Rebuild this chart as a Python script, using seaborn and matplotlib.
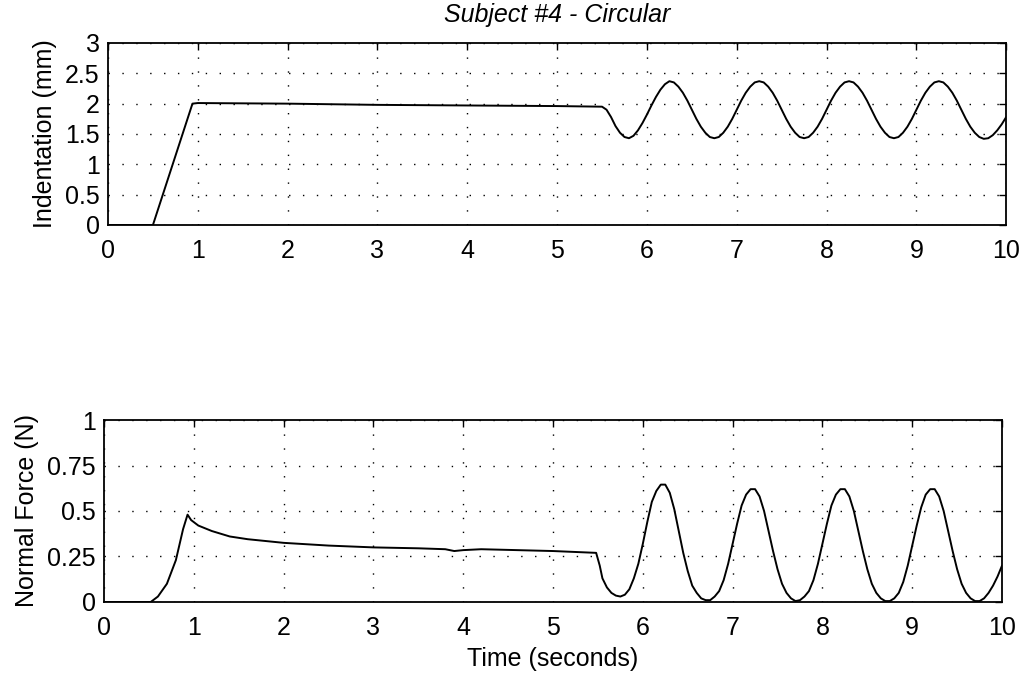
import numpy as np
import pandas as pd
import matplotlib
matplotlib.use("Agg")
import matplotlib.pyplot as plt
import seaborn as sns

# ---------------- data ----------------
ind_time = [0.0, 0.5, 0.94, 1.0, 2.0, 3.0, 4.0, 5.0,
            5.50, 5.55, 5.60, 5.65, 5.70, 5.75, 5.80, 5.85, 5.90, 5.95,
            6.00, 6.05, 6.10, 6.15, 6.20, 6.25, 6.30, 6.35, 6.40, 6.45,
            6.50, 6.55, 6.60, 6.65, 6.70, 6.75, 6.80, 6.85, 6.90, 6.95,
            7.00, 7.05, 7.10, 7.15, 7.20, 7.25, 7.30, 7.35, 7.40, 7.45,
            7.50, 7.55, 7.60, 7.65, 7.70, 7.75, 7.80, 7.85, 7.90, 7.95,
            8.00, 8.05, 8.10, 8.15, 8.20, 8.25, 8.30, 8.35, 8.40, 8.45,
            8.50, 8.55, 8.60, 8.65, 8.70, 8.75, 8.80, 8.85, 8.90, 8.95,
            9.00, 9.05, 9.10, 9.15, 9.20, 9.25, 9.30, 9.35, 9.40, 9.45,
            9.50, 9.55, 9.60, 9.65, 9.70, 9.75, 9.80, 9.85, 9.90, 9.95, 10.00]
ind_mm = [0.0, 0.0, 2.0, 2.01, 2.0, 1.98, 1.97, 1.96,
          1.95, 1.90, 1.78, 1.63, 1.52, 1.45, 1.43, 1.47, 1.56, 1.68,
          1.82, 1.97, 2.11, 2.23, 2.32, 2.37, 2.35, 2.28, 2.18, 2.05,
          1.90, 1.75, 1.62, 1.52, 1.45, 1.43, 1.45, 1.52, 1.62, 1.75,
          1.90, 2.05, 2.18, 2.28, 2.35, 2.37, 2.35, 2.28, 2.18, 2.05,
          1.90, 1.75, 1.62, 1.52, 1.45, 1.43, 1.45, 1.52, 1.62, 1.75,
          1.90, 2.05, 2.18, 2.28, 2.35, 2.37, 2.35, 2.28, 2.18, 2.05,
          1.90, 1.75, 1.62, 1.52, 1.45, 1.43, 1.45, 1.52, 1.62, 1.75,
          1.90, 2.05, 2.18, 2.28, 2.35, 2.37, 2.35, 2.28, 2.18, 2.05,
          1.90, 1.75, 1.62, 1.52, 1.45, 1.42, 1.43, 1.48, 1.56, 1.66, 1.78]

force_time = [0.0, 0.52, 0.60, 0.70, 0.80, 0.88, 0.93, 0.97, 1.05, 1.2, 1.4,
              1.6, 2.0, 2.5, 3.0, 3.5, 3.8, 3.9, 4.0, 4.2, 4.6, 5.0, 5.48,
              5.52, 5.55, 5.60, 5.65, 5.70, 5.75, 5.80, 5.85, 5.90, 5.95,
              6.00, 6.05, 6.10, 6.15, 6.20, 6.25, 6.30, 6.35, 6.40, 6.45,
              6.50, 6.55, 6.60, 6.65, 6.70, 6.75, 6.80, 6.85, 6.90, 6.95,
              7.00, 7.05, 7.10, 7.15, 7.20, 7.25, 7.30, 7.35, 7.40, 7.45,
              7.50, 7.55, 7.60, 7.65, 7.70, 7.75, 7.80, 7.85, 7.90, 7.95,
              8.00, 8.05, 8.10, 8.15, 8.20, 8.25, 8.30, 8.35, 8.40, 8.45,
              8.50, 8.55, 8.60, 8.65, 8.70, 8.75, 8.80, 8.85, 8.90, 8.95,
              9.00, 9.05, 9.10, 9.15, 9.20, 9.25, 9.30, 9.35, 9.40, 9.45,
              9.50, 9.55, 9.60, 9.65, 9.70, 9.75, 9.80, 9.85, 9.90, 9.95, 10.00]
force_n = [0.0, 0.0, 0.03, 0.10, 0.23, 0.40, 0.48, 0.45, 0.42, 0.39, 0.36,
           0.345, 0.325, 0.31, 0.30, 0.295, 0.29, 0.28, 0.285, 0.29, 0.285, 0.28, 0.27,
           0.20, 0.13, 0.08, 0.05, 0.035, 0.03, 0.04, 0.07, 0.13, 0.21,
           0.32, 0.44, 0.55, 0.61, 0.645, 0.645, 0.60, 0.51, 0.39, 0.27,
           0.17, 0.09, 0.05, 0.02, 0.01, 0.01, 0.03, 0.06, 0.12, 0.21,
           0.32, 0.43, 0.53, 0.59, 0.62, 0.62, 0.58, 0.50, 0.39, 0.28,
           0.18, 0.10, 0.05, 0.02, 0.005, 0.01, 0.03, 0.06, 0.12, 0.21,
           0.32, 0.43, 0.53, 0.59, 0.62, 0.62, 0.58, 0.50, 0.39, 0.28,
           0.18, 0.10, 0.05, 0.02, 0.005, 0.005, 0.02, 0.05, 0.11, 0.20,
           0.31, 0.42, 0.52, 0.59, 0.62, 0.62, 0.58, 0.50, 0.39, 0.28,
           0.18, 0.10, 0.05, 0.02, 0.005, 0.005, 0.02, 0.05, 0.09, 0.14, 0.20]

x_ticks = [0, 1, 2, 3, 4, 5, 6, 7, 8, 9, 10]
ind_ticks = [0, 0.5, 1, 1.5, 2, 2.5, 3]
ind_tick_labels = ["0", "0.5", "1", "1.5", "2", "2.5", "3"]
force_ticks = [0, 0.25, 0.5, 0.75, 1]
force_tick_labels = ["0", "0.25", "0.5", "0.75", "1"]

title = "Subject #4 - Circular"
ind_label = "Indentation (mm)"
force_label = "Normal Force (N)"
time_label = "Time (seconds)"

# ---------------- style ----------------
sns.set_theme(style="white")
plt.rcParams["font.family"] = ["Liberation Sans", "DejaVu Sans"]
plt.rcParams["axes.edgecolor"] = "black"
plt.rcParams["text.color"] = "black"
plt.rcParams["axes.labelcolor"] = "black"
plt.rcParams["xtick.color"] = "black"
plt.rcParams["ytick.color"] = "black"

fig = plt.figure(figsize=(10.23, 6.77), dpi=100)
ax1 = fig.add_axes([0.1056, 0.6677, 0.878, 0.2688])
ax2 = fig.add_axes([0.1017, 0.1108, 0.8778, 0.2688])

df_ind = pd.DataFrame({"t": ind_time, "v": ind_mm})
df_force = pd.DataFrame({"t": force_time, "v": force_n})

sns.lineplot(data=df_ind, x="t", y="v", ax=ax1, color="black", lw=1.4,
             estimator=None, sort=False)
sns.lineplot(data=df_force, x="t", y="v", ax=ax2, color="black", lw=1.4,
             estimator=None, sort=False)

for ax, yt, ytl, ylim in [(ax1, ind_ticks, ind_tick_labels, (0, 3)),
                          (ax2, force_ticks, force_tick_labels, (0, 1))]:
    ax.set_xlim(0, 10)
    ax.set_ylim(*ylim)
    ax.set_xticks(x_ticks)
    ax.set_xticklabels([str(v) for v in x_ticks])
    ax.set_yticks(yt)
    ax.set_yticklabels(ytl)
    ax.tick_params(direction="in", length=5, width=1.0, labelsize=18,
                   top=True, right=True)
    ax.tick_params(axis="x", pad=10)
    ax.tick_params(axis="y", pad=6)
    ax.grid(True, color="black", linestyle=(0, (1, 9)), linewidth=1.0)
    for s in ax.spines.values():
        s.set_linewidth(1.3)
        s.set_color("black")

ax1.set_xlabel("")
ax1.set_ylabel(ind_label, fontsize=18, labelpad=6)
ax1.set_title(title, fontsize=18, style="italic", pad=15)
ax2.set_xlabel(time_label, fontsize=18, labelpad=5)
ax2.set_ylabel(force_label, fontsize=18, labelpad=6)

fig.savefig("out.png", dpi=100, facecolor="white")
